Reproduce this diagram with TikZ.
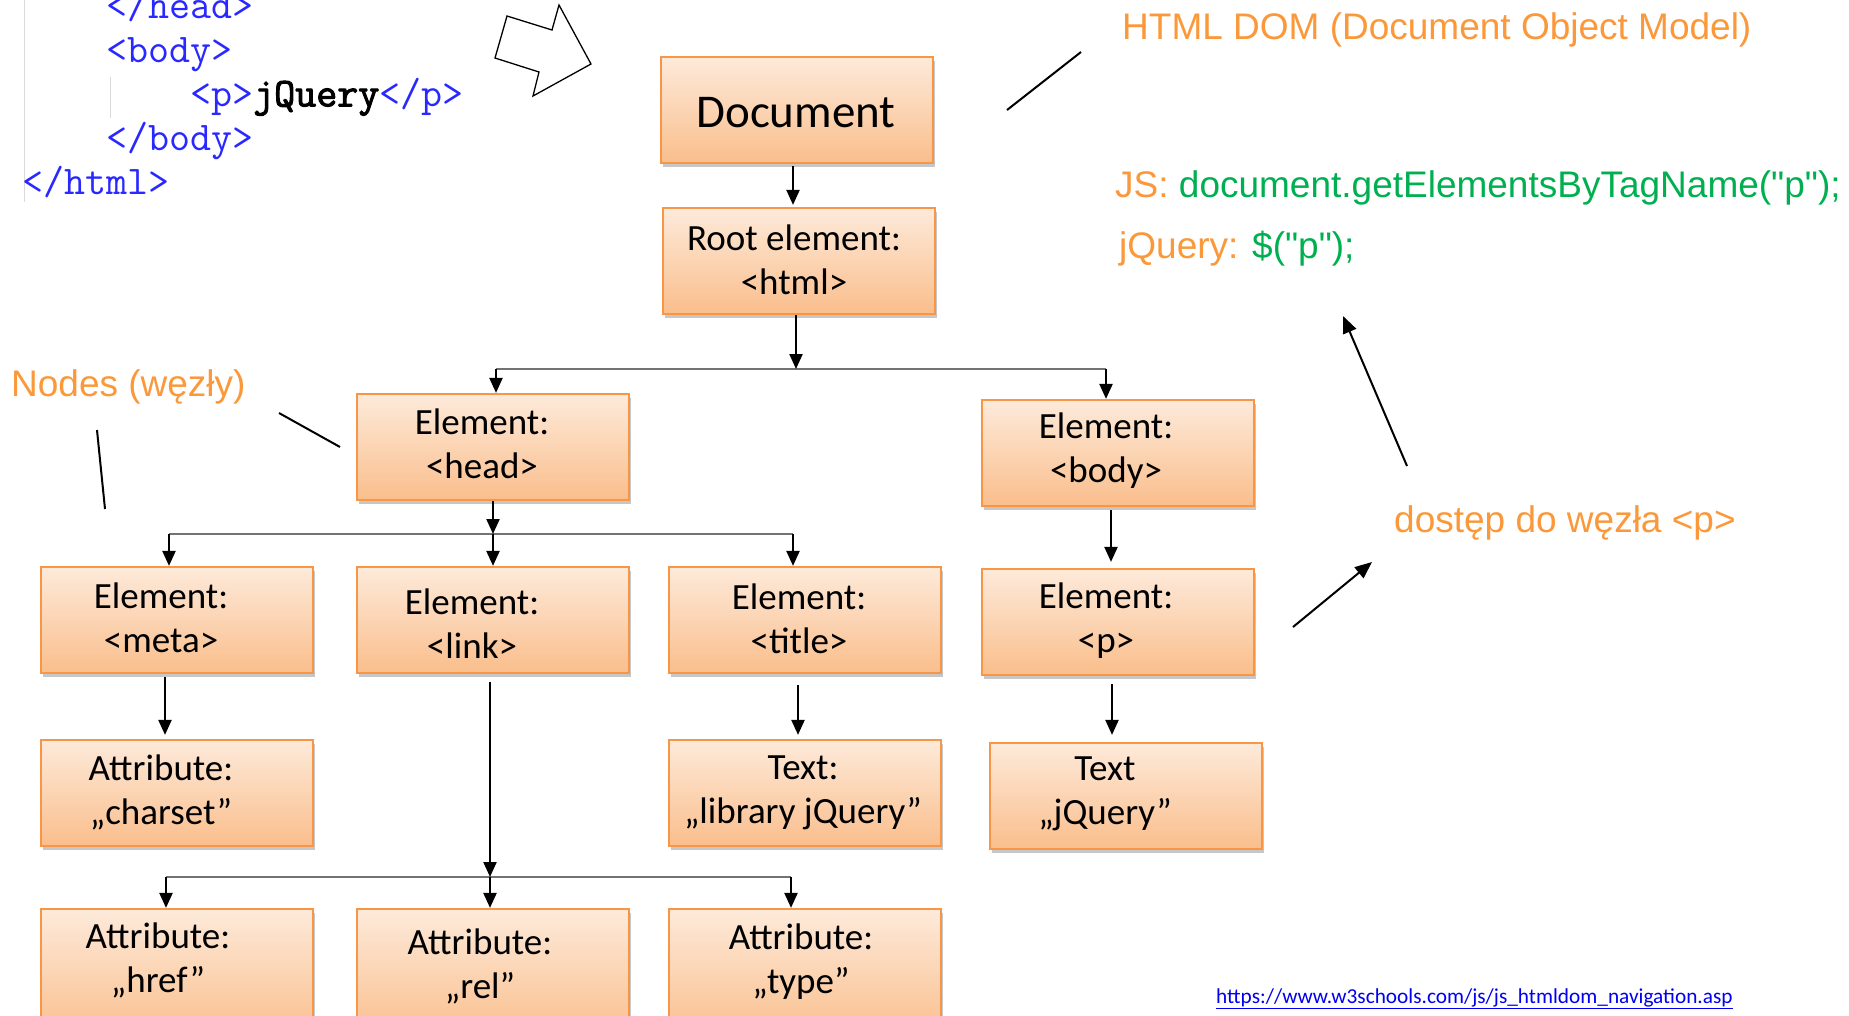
\documentclass[tikz,border=0pt]{standalone}
\usepackage{fontspec}
\setmainfont{Carlito}
\newfontfamily\annfont{Liberation Sans}
\newfontfamily\codeboldfont{Latin Modern Mono}[FakeBold=2.5]
\usetikzlibrary{arrows.meta,shadows}
\definecolor{boxtop}{RGB}{253,234,218}
\definecolor{boxbot}{RGB}{250,190,140}
\definecolor{boxline}{RGB}{247,150,70}
\definecolor{orangetxt}{RGB}{250,152,58}
\definecolor{greentxt}{RGB}{0,176,80}
\definecolor{codeblue}{RGB}{40,40,255}
\definecolor{urlblue}{RGB}{0,0,238}
\begin{document}
\begin{tikzpicture}[x=1pt,y=-1pt,
  domBox/.style={draw=boxline, line width=2.2pt, top color=boxtop, bottom color=boxbot,
    minimum width=272pt, minimum height=106pt, inner sep=0pt,
    drop shadow={shadow xshift=2pt, shadow yshift=-4pt, fill=black, opacity=0.22}},
  boxTxt/.style={font=\fontsize{37}{44}\selectfont, align=center, inner sep=0pt},
  annTxt/.style={font=\annfont\fontsize{37}{44}\selectfont, text=orangetxt, anchor=west, inner sep=0pt},
  codeTxt/.style={font=\ttfamily\fontsize{40.8}{44}\selectfont, text=codeblue, anchor=mid west, inner sep=0pt},
  treeArr/.style={-{Triangle[length=15pt,width=13pt]}, line width=2.2pt, black},
  treeBar/.style={line width=2pt, draw=black!55},
  annLine/.style={line width=2pt, black},
  annArr/.style={annLine, -{Triangle[length=17pt,width=14pt]}},
  guide/.style={line width=0.8pt, draw=black!15}
]
\useasboundingbox (0,0) rectangle (1849,1015);

% ---- code snippet ----
\draw[guide] (24,0) -- (24,202);
\draw[guide] (110,77) -- (110,118);
\node[codeTxt] (c1) at (106,16) {</head>};
\node[codeTxt] (c2) at (106,60) {<body>};
\node[codeTxt] (c3) at (190,104) {<p>{\color{black}\codeboldfont\fontsize{40.8}{44}\selectfont jQuery}</p>};
\node[codeTxt] (c4) at (106,148) {</body>};
\node[codeTxt] (c5) at (22,192) {</html>};

% ---- hollow block arrow ----
\draw[line width=1.3pt] (507,16) -- (552,30) -- (559,5) -- (591,64) -- (533,96) -- (539,72) -- (495,58) -- cycle;

% ---- boxes ----
\node[domBox] (doc) at (797,110) {};
\node[domBox] (root) at (799,261) {};
\node[domBox] (head) at (493,447) {};
\node[domBox] (body) at (1118,453) {};
\node[domBox] (meta) at (177,620) {};
\node[domBox] (link) at (493,620) {};
\node[domBox] (title) at (805,620) {};
\node[domBox] (p) at (1118,622) {};
\node[domBox] (charset) at (177,793) {};
\node[domBox] (textlib) at (805,793) {};
\node[domBox] (textjq) at (1126,796) {};
\node[domBox, minimum height=130pt] (href) at (177,974) {};
\node[domBox, minimum height=130pt] (rel) at (493,974) {};
\node[domBox, minimum height=130pt] (type) at (805,974) {};

% ---- box texts ----
\node[boxTxt, font=\fontsize{47}{56}\selectfont] (tdoc) at (796,113) {Document};
\node[boxTxt] (troot) at (794,260) {Root element:\\<html>};
\node[boxTxt] (thead) at (482,444) {Element:\\<head>};
\node[boxTxt] (tbody) at (1106,451) {Element:\\<body>};
\node[boxTxt] (tmeta) at (161,618) {Element:\\<meta>};
\node[boxTxt] (tlink) at (472,624) {Element:\\<link>};
\node[boxTxt] (ttitle) at (799,619) {Element:\\<title>};
\node[boxTxt] (tp) at (1106,621) {Element:\\<p>};
\node[boxTxt] (tcharset) at (161,792) {Attribute:\\„charset”};
\node[boxTxt] (ttextlib) at (803,793) {Text:\\„library jQuery”};
\node[boxTxt] (ttextjq) at (1105,794) {Text\\„jQuery”};
\node[boxTxt] (thref) at (158,960) {Attribute:\\„href”};
\node[boxTxt] (trel) at (480,966) {Attribute:\\„rel”};
\node[boxTxt] (ttype) at (801,962) {Attribute:\\„type”};

% ---- tree connectors ----
\draw[treeArr, shorten <=2pt, shorten >=2pt] ([xshift=-4pt]doc.south) -- ([xshift=-4pt]doc.south |- root.north);
\coordinate (b1L) at (496,369);
\coordinate (b1R) at (1106,369);
\draw[treeBar] (b1L) -- (b1R);
\draw[treeArr] ([xshift=-3pt]root.south) -- ([xshift=-3pt]root.south |- b1L);
\draw[treeArr] (b1L) -- (b1L |- head.north);
\draw[treeArr] (b1R) -- (b1R |- body.north);

\coordinate (b2L) at (169,534);
\coordinate (b2R) at (793,534);
\draw[treeBar] (b2L) -- (b2R);
\draw[treeArr] (head.south) -- (head.south |- b2L);
\draw[treeArr] (b2L) -- (b2L |- meta.north);
\draw[treeArr] (head.south |- b2L) -- (head.south |- link.north);
\draw[treeArr] (b2R) -- (b2R |- title.north);

\draw[treeArr, shorten <=3pt, shorten >=6pt] ([xshift=-7pt]body.south) -- ([xshift=-7pt]body.south |- p.north);
\draw[treeArr, shorten <=3pt, shorten >=4pt] ([xshift=-12pt]meta.south) -- ([xshift=-12pt]meta.south |- charset.north);
\draw[treeArr, shorten <=11pt, shorten >=4pt] ([xshift=-7pt]title.south) -- ([xshift=-7pt]title.south |- textlib.north);
\draw[treeArr, shorten <=8pt, shorten >=7pt] ([xshift=-6pt]p.south) -- ([xshift=-6pt]p.south |- textjq.north);

\coordinate (b3L) at (166,877);
\coordinate (b3R) at (791,877);
\draw[treeBar] (b3L) -- (b3R);
\draw[treeArr, shorten <=8pt] ([xshift=-3pt]link.south) -- ([xshift=-3pt]link.south |- b3L);
\draw[treeArr] (b3L) -- (b3L |- href.north);
\draw[treeArr] ([xshift=-3pt]link.south |- b3L) -- ([xshift=-3pt]link.south |- rel.north);
\draw[treeArr] (b3R) -- (b3R |- type.north);

% ---- annotations ----
\node[annTxt] (tdom) at (1122,30) {HTML DOM (Document Object Model)};
\coordinate (a1s) at (1007,110);
\coordinate (a1e) at (1081,52);
\draw[annLine] (a1s) -- (a1e);

\node[annTxt] (tjs) at (1115,188) {JS: \textcolor{greentxt}{document.getElementsByTagName("p");}};
\node[annTxt] (tjq) at (1119,249) {jQuery: \textcolor{greentxt}{\$("p");}};

\node[annTxt] (tnodes) at (11,387) {Nodes (węzły)};
\coordinate (a2s) at (279,413);
\coordinate (a2e) at (340,447);
\draw[annLine] (a2s) -- (a2e);
\coordinate (a3s) at (97,430);
\coordinate (a3e) at (105,509);
\draw[annLine] (a3s) -- (a3e);

\node[annTxt] (tdost) at (1394,523) {dostęp do węzła <p>};
\coordinate (a4s) at (1407,466);
\coordinate (a4e) at (1343,316);
\draw[annArr] (a4s) -- (a4e);
\coordinate (a5s) at (1293,627);
\coordinate (a5e) at (1372,562);
\draw[annArr] (a5s) -- (a5e);

% ---- url ----
\node[anchor=west, inner sep=0pt, font=\fontsize{21.3}{25}\selectfont, text=urlblue] (url) at (1216,999)
  {\underline{https://www.w3schools.com/js/js\_htmldom\_navigation.asp}};
\end{tikzpicture}
\end{document}
